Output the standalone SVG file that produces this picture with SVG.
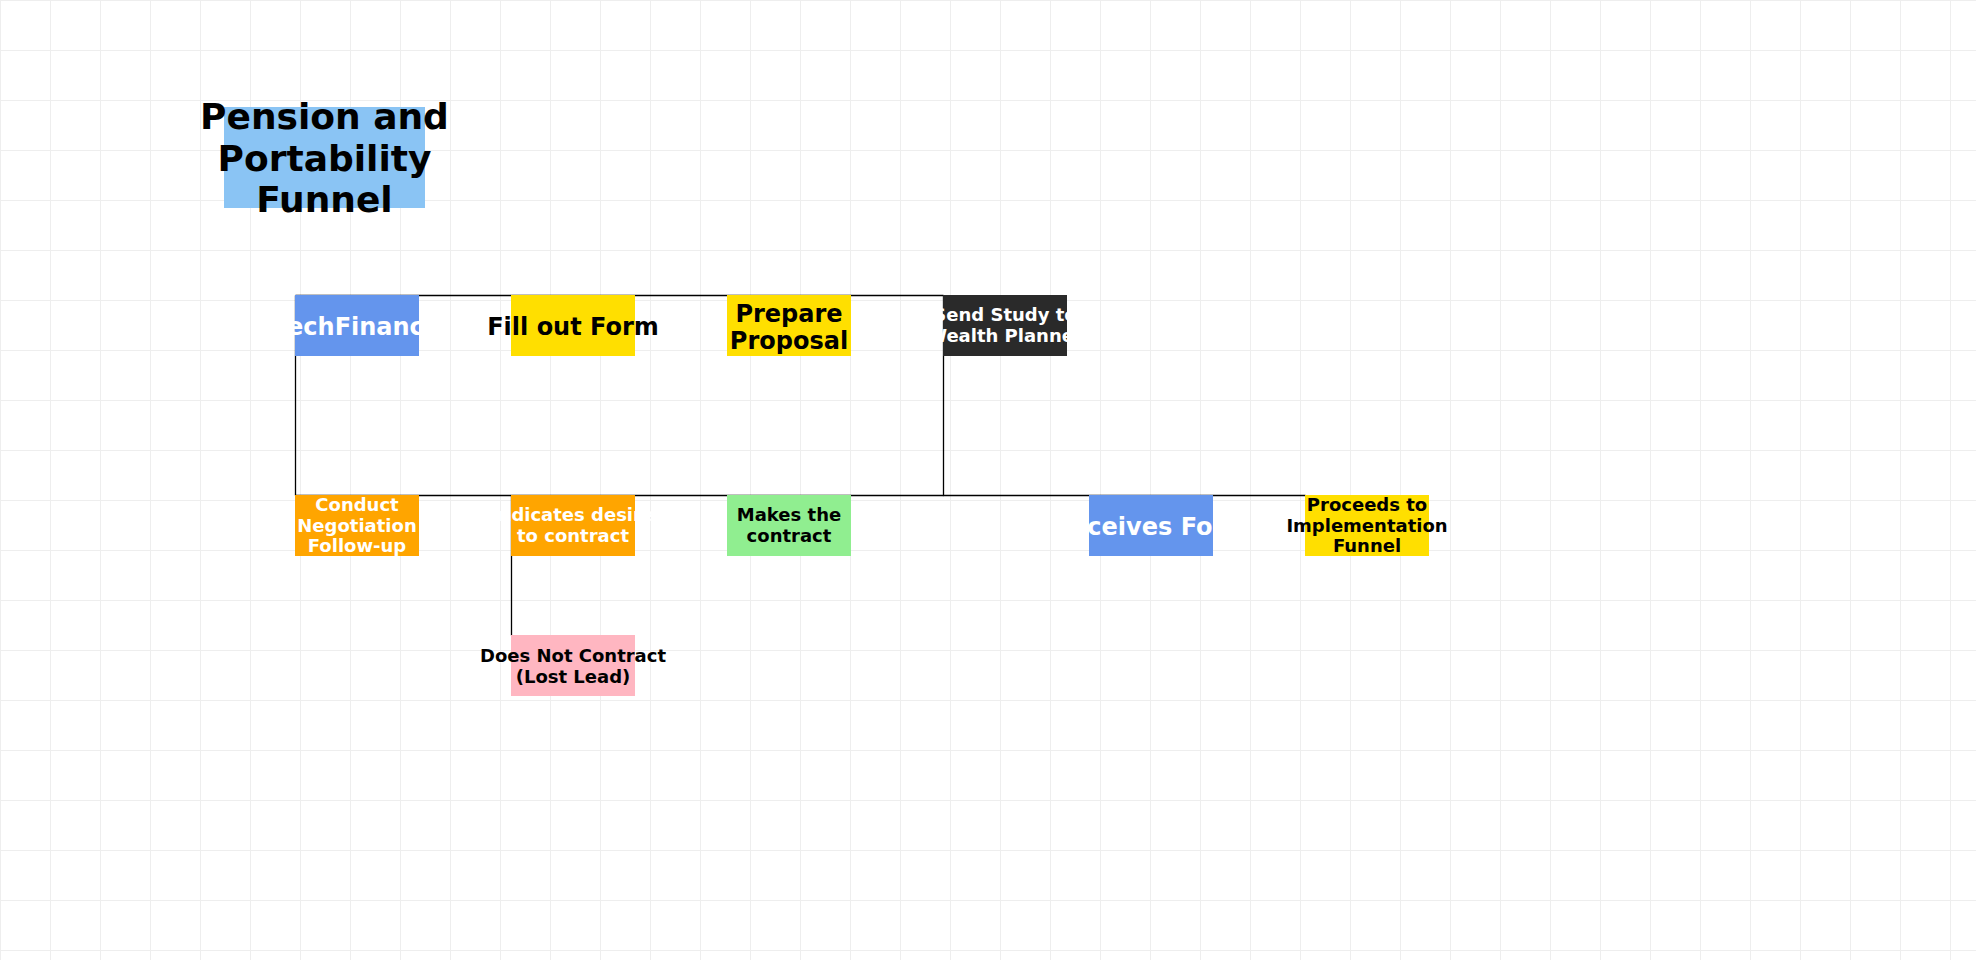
<svg xmlns="http://www.w3.org/2000/svg" width="1976" height="960" viewBox="0 0 1976 960">
  <defs>
    <pattern id="grid" width="50" height="50" patternUnits="userSpaceOnUse">
      <path d="M0.5 0 V50 M0 0.5 H50" fill="none" stroke="#eeeeee" stroke-width="1"/>
    </pattern>
    <style>
      .t { font-family: "DejaVu Sans", "Liberation Sans", sans-serif; font-weight: bold; text-anchor: middle; }
      .w { fill: #ffffff; }
      .b { fill: #000000; }
      .s18 { font-size: 18px; }
      .s24 { font-size: 24px; }
      .s36 { font-size: 36px; }
      .edge { fill: none; stroke: #000000; stroke-width: 1.3; }
    </style>
  </defs>
  <rect x="0" y="0" width="1976" height="960" fill="#ffffff"/>
  <rect x="0" y="0" width="1976" height="960" fill="url(#grid)"/>

  <g id="title">
    <rect x="224" y="107" width="201" height="101" fill="#8AC4F4"/>
    <text class="t b s36" x="324.5" y="129">Pension and</text>
    <text class="t b s36" x="324.5" y="170.5">Portability</text>
    <text class="t b s36" x="324.5" y="212">Funnel</text>
  </g>

  <g id="connectors">
    <path class="edge" d="M295.5 295.5 H511.5"/>
    <path class="edge" d="M511.5 295.5 H727.5"/>
    <path class="edge" d="M727.5 295.5 H943.5"/>
    <path class="edge" d="M943.5 295.5 V495.5 H1089.5"/>
    <path class="edge" d="M295.5 295.5 V495.5"/>
    <path class="edge" d="M295.5 495.5 H511.5"/>
    <path class="edge" d="M511.5 495.5 H727.5"/>
    <path class="edge" d="M727.5 495.5 H943.5"/>
    <path class="edge" d="M511.5 495.5 V635.5"/>
    <path class="edge" d="M1089.5 495.5 H1305.5"/>
  </g>

  <g id="techfinance">
    <rect x="295" y="295" width="124" height="61" fill="#6495ED"/>
    <text class="t w s24" x="357" y="335">TechFinance</text>
  </g>
  <g id="fill-out-form">
    <rect x="511" y="295" width="124" height="61" fill="#FFDF00"/>
    <text class="t b s24" x="573" y="335">Fill out Form</text>
  </g>
  <g id="prepare-proposal">
    <rect x="727" y="295" width="124" height="61" fill="#FFDF00"/>
    <text class="t b s24" x="789" y="321.5">Prepare</text>
    <text class="t b s24" x="789" y="349">Proposal</text>
  </g>
  <g id="send-study">
    <rect x="943" y="295" width="124" height="61" fill="#2A2A2A"/>
    <text class="t w s18" x="1005" y="321.3">Send Study to</text>
    <text class="t w s18" x="1005" y="342">Wealth Planner</text>
  </g>

  <g id="conduct-negotiation">
    <rect x="295" y="495" width="124" height="61" fill="#FFA500"/>
    <text class="t w s18" x="357" y="511">Conduct</text>
    <text class="t w s18" x="357" y="531.7">Negotiation</text>
    <text class="t w s18" x="357" y="552.3">Follow-up</text>
  </g>
  <g id="indicates-desire">
    <rect x="511" y="495" width="124" height="61" fill="#FFA500"/>
    <text class="t w s18" x="573" y="521.3">Indicates desire</text>
    <text class="t w s18" x="573" y="542">to contract</text>
  </g>
  <g id="makes-contract">
    <rect x="727" y="495" width="124" height="61" fill="#90EE90"/>
    <text class="t b s18" x="789" y="521.3">Makes the</text>
    <text class="t b s18" x="789" y="542">contract</text>
  </g>
  <g id="receives-form">
    <rect x="1089" y="495" width="124" height="61" fill="#6495ED"/>
    <text class="t w s24" x="1151" y="535">Receives Form</text>
  </g>
  <g id="proceeds">
    <rect x="1305" y="495" width="124" height="61" fill="#FFDF00"/>
    <text class="t b s18" x="1367" y="511">Proceeds to</text>
    <text class="t b s18" x="1367" y="531.7">Implementation</text>
    <text class="t b s18" x="1367" y="552.3">Funnel</text>
  </g>
  <g id="lost-lead">
    <rect x="511" y="635" width="124" height="61" fill="#FFB6C1"/>
    <text class="t b s18" x="573" y="662">Does Not Contract</text>
    <text class="t b s18" x="573" y="683">(Lost Lead)</text>
  </g>
</svg>
